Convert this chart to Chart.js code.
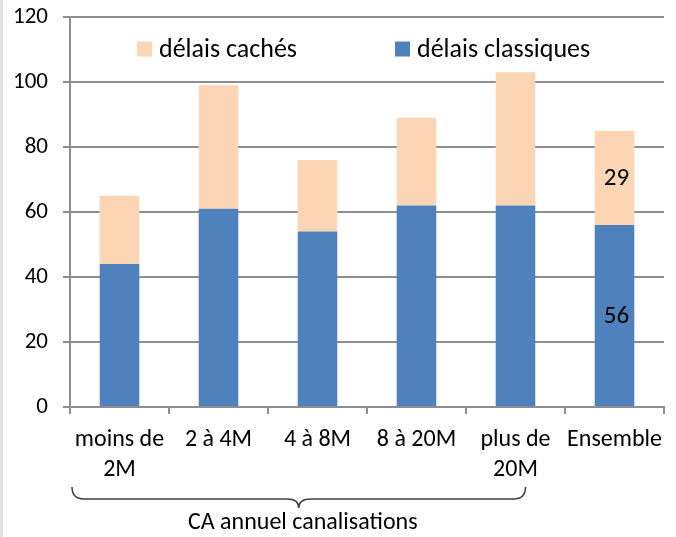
<!DOCTYPE html>
<html>
<head>
<meta charset="utf-8">
<title>Délais cachés / délais classiques</title>
<script src="https://cdn.jsdelivr.net/npm/chart.js@4/dist/chart.umd.min.js"></script>
<style>
    html, body { margin: 0; padding: 0; background: #fff; }
    #wrap { position: relative; width: 676px; height: 537px; }
    #edge { position: absolute; left: 0; top: 0; width: 3px; height: 537px; background: #e2e2e2; }
</style>
</head>
<body>
<div id="wrap">
    <canvas id="chart" width="676" height="537"></canvas>
    <div id="edge"></div>
</div>
<script>
// Catégories (CA annuel canalisations)
const categories = [['moins de', '2M'], '2 à 4M', '4 à 8M', '8 à 20M', ['plus de', '20M'], 'Ensemble'];

// Valeurs
const delaisClassiques = [44, 61, 54, 62, 62, 56];
const delaisCaches = [21, 38, 22, 27, 41, 29];

// Axe Y
const yTicks = [0, 20, 40, 60, 80, 100, 120];

// Seule la colonne "Ensemble" porte des étiquettes
const labelledIndex = [5];

// Accolade sous les 5 premières catégories
const groupFirst = 0;
const groupLast = 4;
const groupLabel = 'CA annuel canalisations';

const FONT = 'Carlito, Lato, sans-serif';
const GRID = '#8e8e8e';

// Légende dessinée dans la zone du graphique
const insideLegend = {
    id: 'insideLegend',
    afterDraw(chart) {
        const ctx = chart.ctx;
        const area = chart.chartArea;
        const items = chart.data.datasets.slice().reverse();
        let x = area.left + 67;
        const y = 49;
        ctx.save();
        ctx.font = '26px ' + FONT;
        ctx.textBaseline = 'middle';
        ctx.textAlign = 'left';
        items.forEach(ds => {
            ctx.fillStyle = ds.backgroundColor;
            ctx.fillRect(x, y - 7.5, 15, 15);
            x += 22;
            ctx.fillStyle = '#000';
            ctx.fillText(ds.label, x, y + 1);
            x += ctx.measureText(ds.label).width + 98;
        });
        ctx.restore();
    }
};

// Étiquettes de valeur au centre des segments
const valueLabels = {
    id: 'valueLabels',
    afterDatasetsDraw(chart) {
        const ctx = chart.ctx;
        ctx.save();
        ctx.font = '25px ' + FONT;
        ctx.fillStyle = '#000';
        ctx.textAlign = 'center';
        ctx.textBaseline = 'middle';
        chart.data.datasets.forEach((ds, di) => {
            const meta = chart.getDatasetMeta(di);
            labelledIndex.forEach(i => {
                const bar = meta.data[i];
                ctx.fillText(String(ds.data[i]), bar.x + 2, (bar.y + bar.base) / 2 + 1);
            });
        });
        ctx.restore();
    }
};

// Accolade + titre de groupe
const groupBrace = {
    id: 'groupBrace',
    afterDraw(chart) {
        const ctx = chart.ctx;
        const xs = chart.scales.x;
        const half = (xs.getPixelForValue(1) - xs.getPixelForValue(0)) / 2;
        const x0 = xs.getPixelForValue(groupFirst) - half + 2;
        const x1 = xs.getPixelForValue(groupLast) + 10;
        const mid = (x0 + x1) / 2;
        const top = 487, line = 499, tip = 508, r = 12;
        ctx.save();
        ctx.strokeStyle = '#404040';
        ctx.lineWidth = 1.5;
        ctx.beginPath();
        ctx.moveTo(x0, top);
        ctx.quadraticCurveTo(x0, line, x0 + r, line);
        ctx.lineTo(mid - r, line);
        ctx.quadraticCurveTo(mid, line, mid, tip);
        ctx.quadraticCurveTo(mid, line, mid + r, line);
        ctx.lineTo(x1 - r, line);
        ctx.quadraticCurveTo(x1, line, x1, top);
        ctx.stroke();
        ctx.font = '24px ' + FONT;
        ctx.fillStyle = '#000';
        ctx.textAlign = 'center';
        ctx.textBaseline = 'middle';
        ctx.fillText(groupLabel, mid + 4, 523);
        ctx.restore();
    }
};

new Chart(document.getElementById('chart'), {
    type: 'bar',
    data: {
        labels: categories,
        datasets: [
            {
                label: 'délais classiques',
                data: delaisClassiques,
                backgroundColor: '#4f81bd',
                borderWidth: 0,
                barPercentage: 0.4,
                categoryPercentage: 1
            },
            {
                label: 'délais cachés',
                data: delaisCaches,
                backgroundColor: '#fcd5b5',
                borderWidth: 0,
                barPercentage: 0.4,
                categoryPercentage: 1
            }
        ]
    },
    options: {
        responsive: false,
        animation: false,
        layout: { autoPadding: false, padding: { left: 0, right: 12, top: 17, bottom: 0 } },
        plugins: {
            legend: { display: false },
            tooltip: { enabled: false }
        },
        scales: {
            x: {
                stacked: true,
                afterFit: scale => { scale.height = 130; },
                grid: {
                    offset: true,
                    drawOnChartArea: false,
                    color: GRID,
                    lineWidth: 2,
                    tickLength: 7
                },
                border: { color: GRID, width: 2 },
                ticks: {
                    color: '#000',
                    font: { family: FONT, size: 24, lineHeight: 1.25 },
                    padding: 11,
                    maxRotation: 0,
                    autoSkip: false
                }
            },
            y: {
                stacked: true,
                min: yTicks[0],
                max: yTicks[yTicks.length - 1],
                afterFit: scale => {
                    scale.width = 70;
                    scale.paddingTop = 0;
                    scale.paddingBottom = 0;
                },
                afterBuildTicks: scale => { scale.ticks = yTicks.map(v => ({ value: v })); },
                grid: { color: GRID, lineWidth: 2, tickLength: 7 },
                border: { color: GRID, width: 2 },
                ticks: {
                    color: '#000',
                    font: { family: FONT, size: 23 },
                    padding: 15
                }
            }
        }
    },
    plugins: [insideLegend, valueLabels, groupBrace]
});
</script>
</body>
</html>
